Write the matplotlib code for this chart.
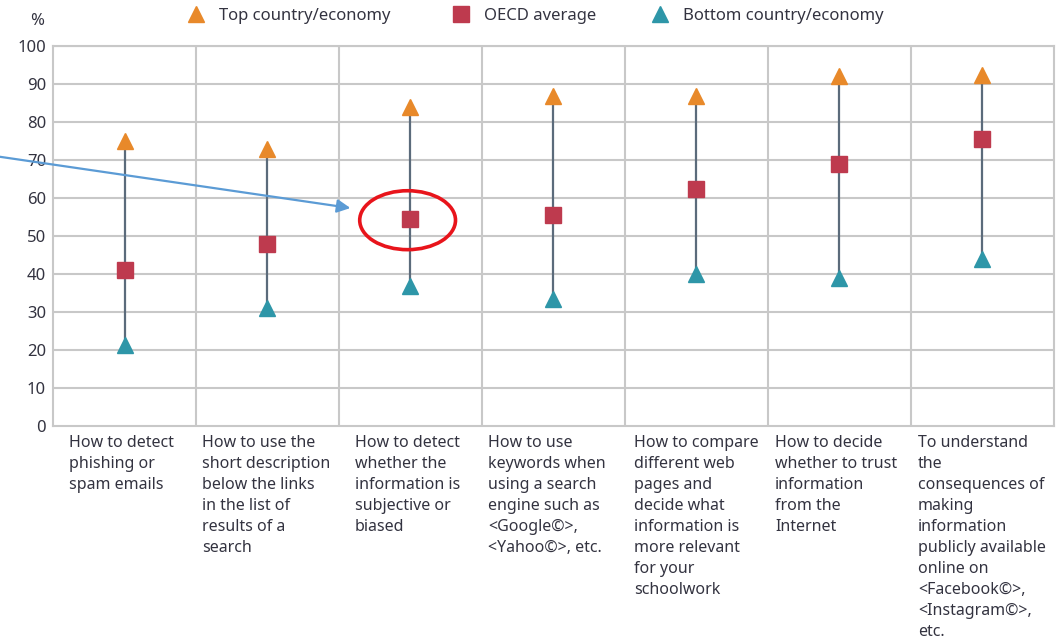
import matplotlib.pyplot as plt
from matplotlib.patches import Ellipse
from matplotlib.lines import Line2D
from matplotlib import transforms

plt.rcParams['font.family'] = ['Noto Sans', 'DejaVu Sans']

categories = [
    "How to detect\nphishing or\nspam emails",
    "How to use the\nshort description\nbelow the links\nin the list of\nresults of a\nsearch",
    "How to detect\nwhether the\ninformation is\nsubjective or\nbiased",
    "How to use\nkeywords when\nusing a search\nengine such as\n<Google©>,\n<Yahoo©>, etc.",
    "How to compare\ndifferent web\npages and\ndecide what\ninformation is\nmore relevant\nfor your\nschoolwork",
    "How to decide\nwhether to trust\ninformation\nfrom the\nInternet",
    "To understand\nthe\nconsequences of\nmaking\ninformation\npublicly available\nonline on\n<Facebook©>,\n<Instagram©>,\netc.",
]
top_values = [75, 73, 84, 87, 87, 92, 92.5]
oecd_values = [41, 48, 54.5, 55.5, 62.4, 69, 75.5]
bottom_values = [21.3, 31, 37, 33.5, 40, 39, 44]

ORANGE = '#E8892A'
CRIMSON = '#BE3A4E'
TEAL = '#2E96A8'
STEM = '#5B6B7B'
GRID = '#C8C8C8'
TEXT = '#333340'

fig = plt.figure(figsize=(10.56, 6.4), dpi=100)
ax = fig.add_axes([0.0502, 0.334, 0.9478, 0.594])

x = list(range(len(categories)))

# stems between bottom and top
ax.vlines(x, bottom_values, top_values, color=STEM, lw=1.6, zorder=2)
ax.plot(x, top_values, '^', color=ORANGE, ms=11.5, ls='none', zorder=3)
ax.plot(x, bottom_values, '^', color=TEAL, ms=11.5, ls='none', zorder=3)
ax.plot(x, oecd_values, 's', color=CRIMSON, ms=11, ls='none', zorder=4)

ax.set_xlim(-0.5, len(categories) - 0.5)
ax.set_ylim(0, 100)
ax.set_yticks(range(0, 101, 10))
ax.set_xticks([])
ax.tick_params(axis='y', length=0, pad=5, labelsize=12, labelcolor=TEXT)
for yv in range(10, 101, 10):
    ax.axhline(yv, color=GRID, lw=1.5, zorder=1)
for xv in range(len(categories) - 1):
    ax.axvline(xv + 0.5, color=GRID, lw=1.5, zorder=1)
for sp in ax.spines.values():
    sp.set_color(GRID)
    sp.set_linewidth(1.5)

# category labels under each column (left edges are a bit uneven in the original)
label_shift = [-0.39, -0.455, -0.39, -0.455, -0.435, -0.45, -0.45]
trans = transforms.blended_transform_factory(ax.transData, ax.transAxes)
for i, label in enumerate(categories):
    ax.text(i + label_shift[i], -0.022, label, transform=trans, ha='left', va='top',
            fontsize=11.5, color=TEXT, linespacing=1.42)

fig.text(0.035, 0.967, '%', ha='center', va='center', fontsize=12, color=TEXT)

# legend, one entry at a time so each sits where it does in the original
handles = [
    Line2D([], [], marker='^', color=ORANGE, ls='none', ms=11.5),
    Line2D([], [], marker='s', color=CRIMSON, ls='none', ms=11),
    Line2D([], [], marker='^', color=TEAL, ls='none', ms=11.5),
]
names = ['Top country/economy', 'OECD average', 'Bottom country/economy']
for h, name, xpos in zip(handles, names, [0.162, 0.413, 0.601]):
    fig.legend([h], [name], loc='center left', bbox_to_anchor=(xpos, 0.975),
               frameon=False, fontsize=12, handletextpad=0.8, labelcolor=TEXT,
               handlelength=1.2)

# highlight on the third column
ax.add_patch(Ellipse((2 - 0.02, oecd_values[2] - 0.3), 0.67, 15.5, fill=False,
                     ec='#E8141B', lw=2.6, zorder=5))
ax.annotate('', xy=(2 - 0.42, oecd_values[2] + 2.9), xycoords='data',
            xytext=(0.0, 0.755), textcoords='figure fraction',
            arrowprops=dict(arrowstyle='-|>', color='#5B9BD5', lw=1.6,
                            mutation_scale=20, shrinkA=0, shrinkB=0),
            annotation_clip=False)

fig.savefig('out.png', dpi=100)
